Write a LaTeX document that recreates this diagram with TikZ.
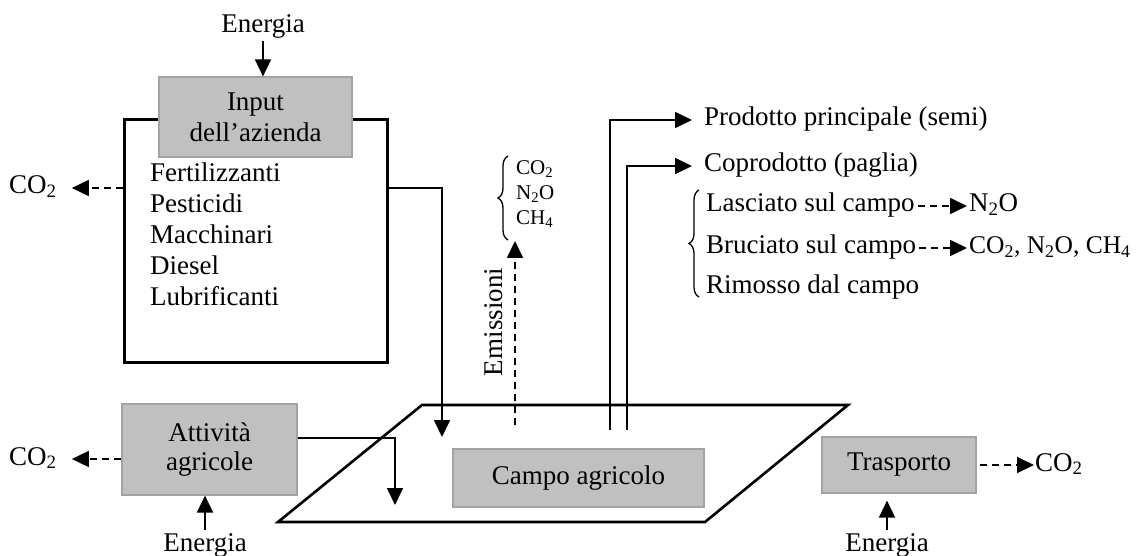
\documentclass[tikz,border=0pt]{standalone}
\usepackage{fontspec}
\setmainfont{Liberation Serif}
\usetikzlibrary{arrows.meta,decorations.pathreplacing}
\definecolor{boxgray}{HTML}{C0C0C0}
\definecolor{boxedge}{HTML}{A3A3A3}
\begin{document}
\begin{tikzpicture}[x=1pt,y=-1pt,
  every node/.style={font=\fontsize{27}{31}\selectfont},
  gbox/.style={fill=boxgray, draw=boxedge, line width=1.2pt, align=center, inner sep=0pt},
  txt/.style={inner sep=0pt, text height=18pt, text depth=6pt, anchor=west},
  conn/.style={line width=1.7pt, -{Triangle[length=17pt,width=16pt]}},
  dconn/.style={conn, dash pattern=on 7pt off 5pt},
  thickline/.style={line width=2.6pt},
  bracestyle/.style={line width=1.3pt, decorate, decoration={brace, amplitude=10pt}}
]
\useasboundingbox (0,0) rectangle (1138,556);

% ---------- farm inputs ----------
\node[draw, thickline, minimum width=263pt, minimum height=243pt, inner sep=0pt, anchor=north west] (inrect) at (123,118) {};
\node[gbox, minimum width=193pt, minimum height=80pt] (input) at (255.5,117) {Input\\dell’azienda};
\node (en1) at (263,26) {Energia};
\draw[conn] (en1.south) -- (en1.south |- input.north);
\node[anchor=north west, align=left, inner sep=0pt, font=\fontsize{27}{31}\selectfont] (list) at (150,163)
  {Fertilizzanti\\Pesticidi\\Macchinari\\Diesel\\Lubrificanti};
\node[txt] (co2a) at (9,188) {CO\textsubscript{2}};
\draw[dconn] (inrect.west |- co2a.east) -- ([xshift=15pt]co2a.east);

% ---------- field ----------
\coordinate (pA) at (422,405);
\coordinate (pB) at (848,405);
\coordinate (pC) at (705,522);
\coordinate (pD) at (278,522);
\draw[thickline, line join=miter] (pA) -- (pB) -- (pC) -- (pD) -- cycle;
\node[gbox, minimum width=251pt, minimum height=58pt] (campo) at (578.5,478) {Campo agricolo};

\coordinate (tip1) at (442,437);
\draw[conn] (inrect.east |- co2a.east) -| (tip1);

% ---------- farm activities ----------
\node[gbox, minimum width=175pt, minimum height=91pt, font=\fontsize{27}{29}\selectfont] (att) at (209.5,449.5) {Attività\\agricole};
\node[txt] (co2b) at (9,459) {CO\textsubscript{2}};
\draw[dconn] (att.west |- co2b.east) -- ([xshift=15pt]co2b.east);
\node (en2) at (205,545) {Energia};
\draw[conn] (en2.north) -- (en2.north |- att.south);
\coordinate (tip2) at (395,505);
\draw[conn] ([yshift=11.5pt]att.east) -| (tip2);

% ---------- emissions ----------
\coordinate (em0) at (515,425);
\coordinate (em1) at (515,241);
\draw[dconn] (em0) -- (em1);
\node[rotate=90] (emlab) at (494,322) {Emissioni};
\node[anchor=north west, align=left, inner sep=0pt, font=\fontsize{21}{25}\selectfont] (gas) at (516,160)
  {CO\textsubscript{2}\\N\textsubscript{2}O\\CH\textsubscript{4}};
\coordinate (brA) at (508,240);
\coordinate (brB) at (508,156);
\draw[bracestyle] (brA) -- (brB);

% ---------- products ----------
\node[txt] (prod) at (704,120) {Prodotto principale (semi)};
\node[txt] (cop) at (704,166) {Coprodotto (paglia)};
\coordinate (p0) at (610,430);
\coordinate (c0) at (627,430);
\draw[conn] (p0) |- ([xshift=-12pt]prod.west);
\draw[conn] (c0) |- ([xshift=-12pt]cop.west);

\coordinate (brC) at (699,297);
\coordinate (brD) at (699,190);
\draw[bracestyle] (brC) -- (brD);
\node[txt] (lasc) at (706,206) {Lasciato sul campo};
\node[txt] (bruc) at (706,248) {Bruciato sul campo};
\node[txt] (rimo) at (706,288) {Rimosso dal campo};
\node[txt] (n2o) at (969,206) {N\textsubscript{2}O};
\node[txt, font=\fontsize{25.5}{30}\selectfont] (gas2) at (969,248) {CO\textsubscript{2}, N\textsubscript{2}O, CH\textsubscript{4}};
\draw[dconn] ([xshift=3pt]lasc.east) -- ([xshift=-2pt]n2o.west);
\draw[dconn] ([xshift=3pt]bruc.east) -- ([xshift=-2pt]gas2.west);

% ---------- transport ----------
\node[gbox, minimum width=154pt, minimum height=56pt] (trasp) at (899,465) {Trasporto};
\node[txt] (co2c) at (1035,465) {CO\textsubscript{2}};
\draw[dconn] ([xshift=3pt]trasp.east) -- ([xshift=-1pt]co2c.west);
\node (en3) at (887,545) {Energia};
\draw[conn] (en3.north) -- ([yshift=-7pt]en3.north |- trasp.south);
\end{tikzpicture}
\end{document}
